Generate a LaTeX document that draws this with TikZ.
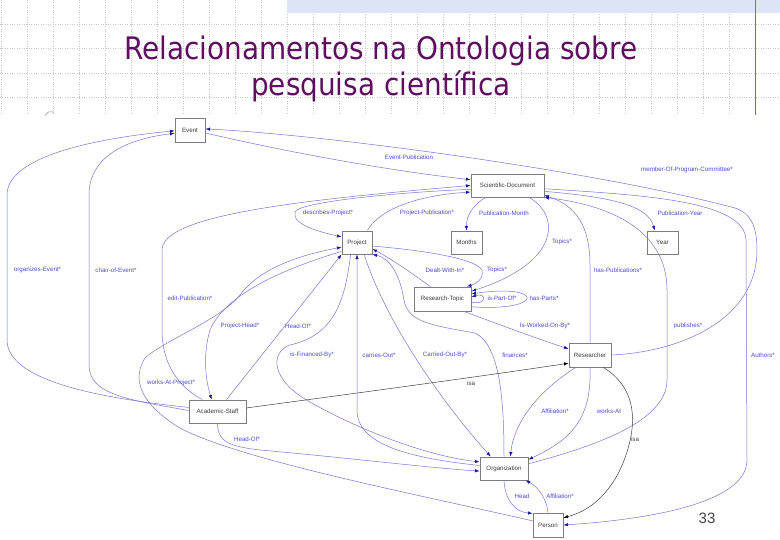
\documentclass[tikz,border=0pt]{standalone}
\usepackage{fontspec}
\setmainfont{Liberation Sans}
\newfontfamily\titlefont{DejaVu Sans Condensed}
\usetikzlibrary{arrows.meta,shadows}

\definecolor{edgeblue}{RGB}{118,118,212}
\definecolor{tipblue}{RGB}{25,25,165}
\definecolor{lblblue}{RGB}{75,75,215}
\definecolor{boxgray}{RGB}{125,125,125}
\definecolor{nodetext}{RGB}{60,60,60}
\definecolor{titlepurple}{RGB}{96,14,96}
\definecolor{gridgray}{RGB}{200,200,200}
\definecolor{bandblue}{RGB}{220,228,245}
\definecolor{slideline}{RGB}{105,115,170}
\definecolor{pagegray}{RGB}{70,70,70}

\tikzset{
  cls/.style={draw=boxgray, fill=white, line width=0.9pt, inner sep=0pt,
    minimum height=23pt, font=\fontsize{6.2}{7}\selectfont, text=nodetext,
    drop shadow={shadow xshift=0.7pt, shadow yshift=-0.7pt, fill=black!30}},
  rel/.style={draw=edgeblue, line width=0.5pt,
    -{Latex[length=4.6pt,width=3.4pt,color=tipblue]}},
  isarel/.style={draw=black!75, line width=0.5pt,
    -{Latex[length=4.6pt,width=3.4pt,color=black]}},
  lbl/.style={font=\fontsize{6.2}{7}\selectfont, text=lblblue, inner sep=0pt},
  isalbl/.style={lbl, text=black!75},
  gridline/.style={draw=gridgray, dotted, line width=0.4pt},
  titletext/.style={font=\titlefont\fontsize{31}{36}\selectfont, text=titlepurple, inner sep=0pt, anchor=base},
}

\begin{document}
\begin{tikzpicture}[x=1pt, y=-1pt]
\useasboundingbox (0,0) rectangle (780,540);
\fill[white] (0,0) rectangle (780,540);

% slide background
\foreach \x in {1,27,...,780}
\draw[gridline] (\x,0) -- (\x,115);
\foreach \y in {24.3,48.6,72.9,97.2}
\draw[gridline] (0,\y) -- (780,\y);
\fill[bandblue] (287,0) rectangle (780,13);
\draw[slideline, line width=1pt] (755,0) -- (755,115);
\draw[black!45, line width=0.5pt] (45,115.5) -- (48.5,112) -- (53,112) -- (53,114);

% title
\node[titletext] (title1) at (381,60) {Relacionamentos na Ontologia sobre};
\node[titletext] (title2) at (381,96) {pesquisa científica};

% draw nodes
\node[cls, minimum width=30pt, minimum height=24pt] (event) at (190,130) {Event};
\node[cls, minimum width=73pt] (sci) at (507.5,185.5) {Scientific-Document};
\node[cls, minimum width=30pt] (proj) at (357,242.5) {Project};
\node[cls, minimum width=31pt] (months) at (466.5,242.5) {Months};
\node[cls, minimum width=31pt] (year) at (662.5,242.5) {Year};
\node[cls, minimum width=57pt, minimum height=24pt] (rt) at (442.5,299) {Research-Topic};
\node[cls, minimum width=42pt, minimum height=24pt] (res) at (590,355) {Researcher};
\node[cls, minimum width=57pt] (ast) at (217.5,411.5) {Academic-Staff};
\node[cls, minimum width=48pt] (org) at (504,468.5) {Organization};
\node[cls, minimum width=30pt, minimum height=24pt] (person) at (548,525) {Person};

% relations to Event
\draw[rel] (ast.172) .. controls (120,400) and (7,385) .. (7,340) -- (7,195) .. controls (7,160) and (80,140) .. (event.183);
\draw[rel] (ast.178) .. controls (130,400) and (89,395) .. (89,365) -- (89,195) .. controls (89,160) and (120,140) .. (event.192);
\draw[rel] (event.349) .. controls (300,155) and (400,172) .. (sci.171);
\draw[rel] (res.east) .. controls (680,352) and (757,320) .. (757,250) .. controls (757,225) and (750,213) .. (735,208) .. controls (600,172) and (330,135) .. (event.4);

% relations of Scientific-Document
\draw[rel] (sci.351) .. controls (610,197) and (648,205) .. (year.123);
\draw[rel] (sci.355) .. controls (640,195) and (745,200) .. (746,240) -- (747,460) .. controls (747,505) and (640,520) .. (person.east);
\draw[rel] (org.11) .. controls (600,445) and (667,420) .. (667,380) -- (667,290) .. controls (667,230) and (610,205) .. (sci.south east);
\draw[rel] (res.north) -- (590,265) .. controls (590,225) and (575,205) .. (sci.345);
\draw[rel] (sci.331) .. controls (560,215) and (562,262) .. (rt.15);
\draw[rel] (sci.209) .. controls (475,203) and (466,215) .. (months.north);
\draw[rel] (proj.49) .. controls (378,212) and (410,196) .. (sci.190);
\draw[rel] (sci.186) .. controls (400,192) and (298,202) .. (295,212) .. controls (292,225) and (320,232) .. (proj.160);
\draw[rel] (ast.142) .. controls (175,385) and (162,360) .. (162,330) -- (162,250) .. controls (162,215) and (300,200) .. (sci.180);

% relations of Project
\draw[rel] (proj.210) .. controls (280,270) and (225,295) .. (210,330) .. controls (204,350) and (204,375) .. (ast.116);
\draw[rel] (person.165) .. controls (420,495) and (240,460) .. (180,428) .. controls (150,410) and (128,385) .. (145,358) .. controls (165,340) and (220,320) .. (240,295) .. controls (260,268) and (300,255) .. (proj.197);
\draw[rel] (ast.53) -- (proj.south west);
\draw[rel] (proj.242) .. controls (345,300) and (335,335) .. (290,345) .. controls (270,352) and (270,380) .. (310,402) .. controls (350,425) and (420,455) .. (org.165);
\draw[rel] (org.173) .. controls (410,458) and (357,445) .. (357,410) -- (proj.south);
\draw[rel] (proj.301) .. controls (385,320) and (440,400) .. (org.138);
\draw[rel] (org.north) .. controls (504,400) and (500,345) .. (475,333) .. controls (430,325) and (408,322) .. (404,300) .. controls (400,275) and (390,258) .. (proj.south east);

% relations of Research-Topic
\draw[rel] (rt.134) .. controls (410,272) and (390,258) .. (proj.337);
\draw[rel] (proj.347) .. controls (420,250) and (475,258) .. (482,270) .. controls (484,280) and (475,284) .. (rt.27);
\draw[rel] (rt.354) .. controls (487,306) and (487,292) .. (rt.4);
\draw[rel] (rt.345) .. controls (545,312) and (545,283) .. (rt.10);
\draw[rel] (rt.330) .. controls (495,323) and (535,338) .. (res.164);

% relations of Researcher
\draw[rel] (res.221) .. controls (548,385) and (515,415) .. (org.62);
\draw[rel] (res.south) .. controls (592,420) and (570,440) .. (org.20);
\draw[isarel] (res.317) .. controls (640,390) and (638,430) .. (620,470) .. controls (605,500) and (585,512) .. (person.25);
\draw[isarel] (ast.7) .. controls (350,394) and (470,378) .. (res.201);

% Organization and Person
\draw[rel] (org.south) .. controls (505,500) and (515,512) .. (person.143);
\draw[rel] (person.north) .. controls (546,495) and (535,485) .. (org.331);
\draw[rel] (ast.south) .. controls (218,440) and (225,446) .. (260,450) .. controls (350,458) and (430,468) .. (org.186);

% draw labels
\node[lbl] (l-orgev) at (37.5,270) {organizes-Event*};
\node[lbl] (l-chair) at (116,270) {chair-of-Event*};
\node[lbl] (l-evpub) at (409,157) {Event-Publication};
\node[lbl] (l-member) at (687,170) {member-Of-Program-Committee*};
\node[lbl] (l-descr) at (328,213) {describes-Project*};
\node[lbl] (l-projpub) at (427,213) {Project-Publication*};
\node[lbl] (l-pubmonth) at (504,213) {Publication-Month};
\node[lbl] (l-pubyear) at (680,213) {Publication-Year};
\node[lbl] (l-topics1) at (562,242) {Topics*};
\node[lbl] (l-edit) at (190,298) {edit-Publication*};
\node[lbl] (l-dealt) at (445,270) {Dealt-With-In*};
\node[lbl] (l-topics2) at (497,270) {Topics*};
\node[lbl] (l-haspub) at (618,270) {has-Publications*};
\node[lbl] (l-partof) at (502,298) {is-Part-Of*};
\node[lbl] (l-hasparts) at (544,298) {has-Parts*};
\node[lbl] (l-projhead) at (240,326) {Project-Head*};
\node[lbl] (l-headof1) at (298,326) {Head-Of*};
\node[lbl] (l-worked) at (545,326) {Is-Worked-On-By*};
\node[lbl] (l-publishes) at (688,326) {publishes*};
\node[lbl] (l-financed) at (312,355) {is-Financed-By*};
\node[lbl] (l-carries) at (379,355) {carries-Out*};
\node[lbl] (l-carried) at (445,355) {Carried-Out-By*};
\node[lbl] (l-finances) at (515,355) {finances*};
\node[lbl] (l-authors) at (763,355) {Authors*};
\node[lbl] (l-workproj) at (171,383) {works-At-Project*};
\node[isalbl] (l-isa1) at (471,383) {isa};
\node[lbl] (l-affil1) at (555,411) {Affiliation*};
\node[lbl] (l-worksat) at (609,411) {works-At};
\node[lbl] (l-headof2) at (247,439) {Head-Of*};
\node[isalbl] (l-isa2) at (635,439) {isa};
\node[lbl] (l-head) at (522,496) {Head};
\node[lbl] (l-affil2) at (560,496) {Affiliation*};

% page number
\node[font=\fontsize{15}{15}\selectfont, text=pagegray, inner sep=0pt, anchor=base] (pgno) at (707,523) {33};
\end{tikzpicture}
\end{document}
